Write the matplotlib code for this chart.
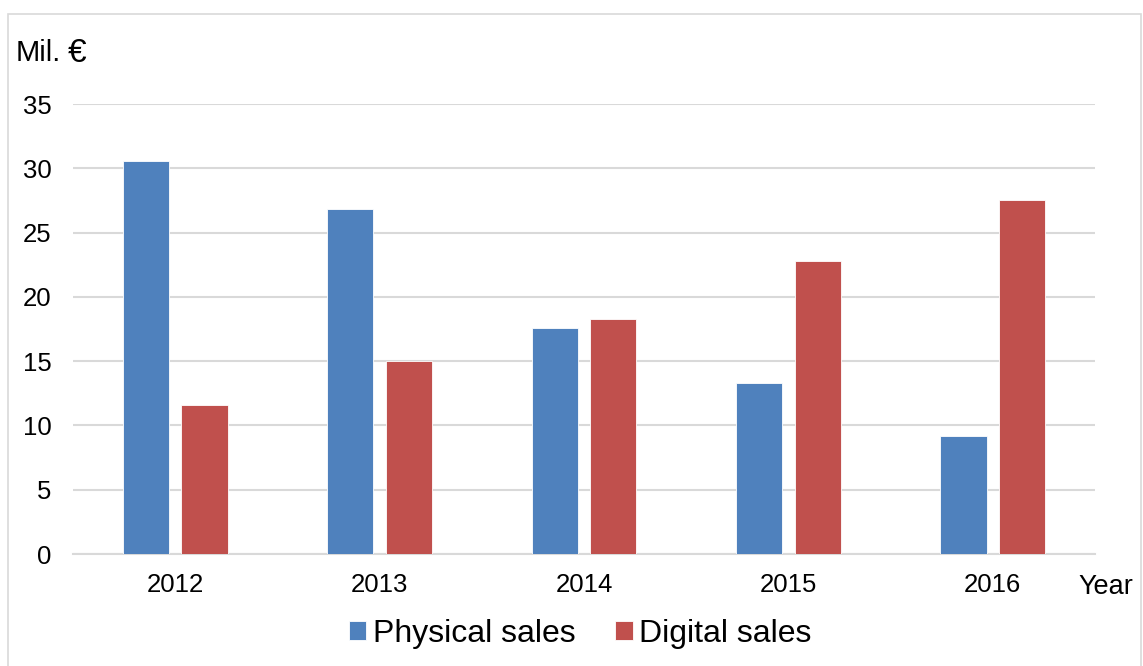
import numpy as np
import matplotlib.pyplot as plt
from matplotlib.patches import Rectangle

years = ['2012', '2013', '2014', '2015', '2016']
physical = [30.6, 26.8, 17.6, 13.3, 9.2]
digital = [11.6, 15.0, 18.3, 22.8, 27.5]
yticks = [0, 5, 10, 15, 20, 25, 30, 35]

plt.rcParams['font.family'] = ['Liberation Sans', 'DejaVu Sans']

W, H = 1143, 666
fig = plt.figure(figsize=(W / 100, H / 100), dpi=100)
ax = fig.add_axes([73 / W, 1 - 554 / H, 1022 / W, 450 / H])

x = np.arange(len(years))
bw = 0.226
ax.bar(x - 0.143, physical, bw, color='#4F81BD', edgecolor='white', linewidth=0.6,
       label='Physical sales', zorder=3)
ax.bar(x + 0.143, digital, bw, color='#C0504D', edgecolor='white', linewidth=0.6,
       label='Digital sales', zorder=3)

ax.set_xlim(-0.5, len(years) - 0.5)
ax.set_ylim(0, 35)
ax.set_yticks(yticks)
ax.set_xticks(x)
ax.set_xticklabels(years)
ax.tick_params(axis='both', length=0, labelsize=18.5, colors='black')
ax.tick_params(axis='x', pad=14)
ax.tick_params(axis='y', pad=15.5)
ax.grid(axis='y', color='#D9D9D9', linewidth=1.5, zorder=0)
for s in ['top', 'right', 'left']:
    ax.spines[s].set_visible(False)
ax.spines['bottom'].set_color('#D9D9D9')
ax.spines['bottom'].set_linewidth(1.5)

fig.text(16 / W, 1 - 53 / H, 'Mil.', fontsize=21, va='center', ha='left')
fig.text(68 / W, 1 - 53 / H, '€', fontsize=24, va='center', ha='left')
fig.text(1078 / W, 1 - 587 / H, 'Year', fontsize=19.5, va='center', ha='left')

fig.legend(loc='center', bbox_to_anchor=(580 / W, 1 - 634 / H), ncol=2, frameon=False,
           fontsize=23, handlelength=0.55, handleheight=0.55, handletextpad=0.2,
           columnspacing=1.25)

fig.patches.append(Rectangle((8 / W, -0.01), 1133 / W, 1 - 14 / H + 0.01,
                             transform=fig.transFigure, fill=False,
                             edgecolor='#D9D9D9', linewidth=1.2))

fig.savefig('out.png', dpi=100)
